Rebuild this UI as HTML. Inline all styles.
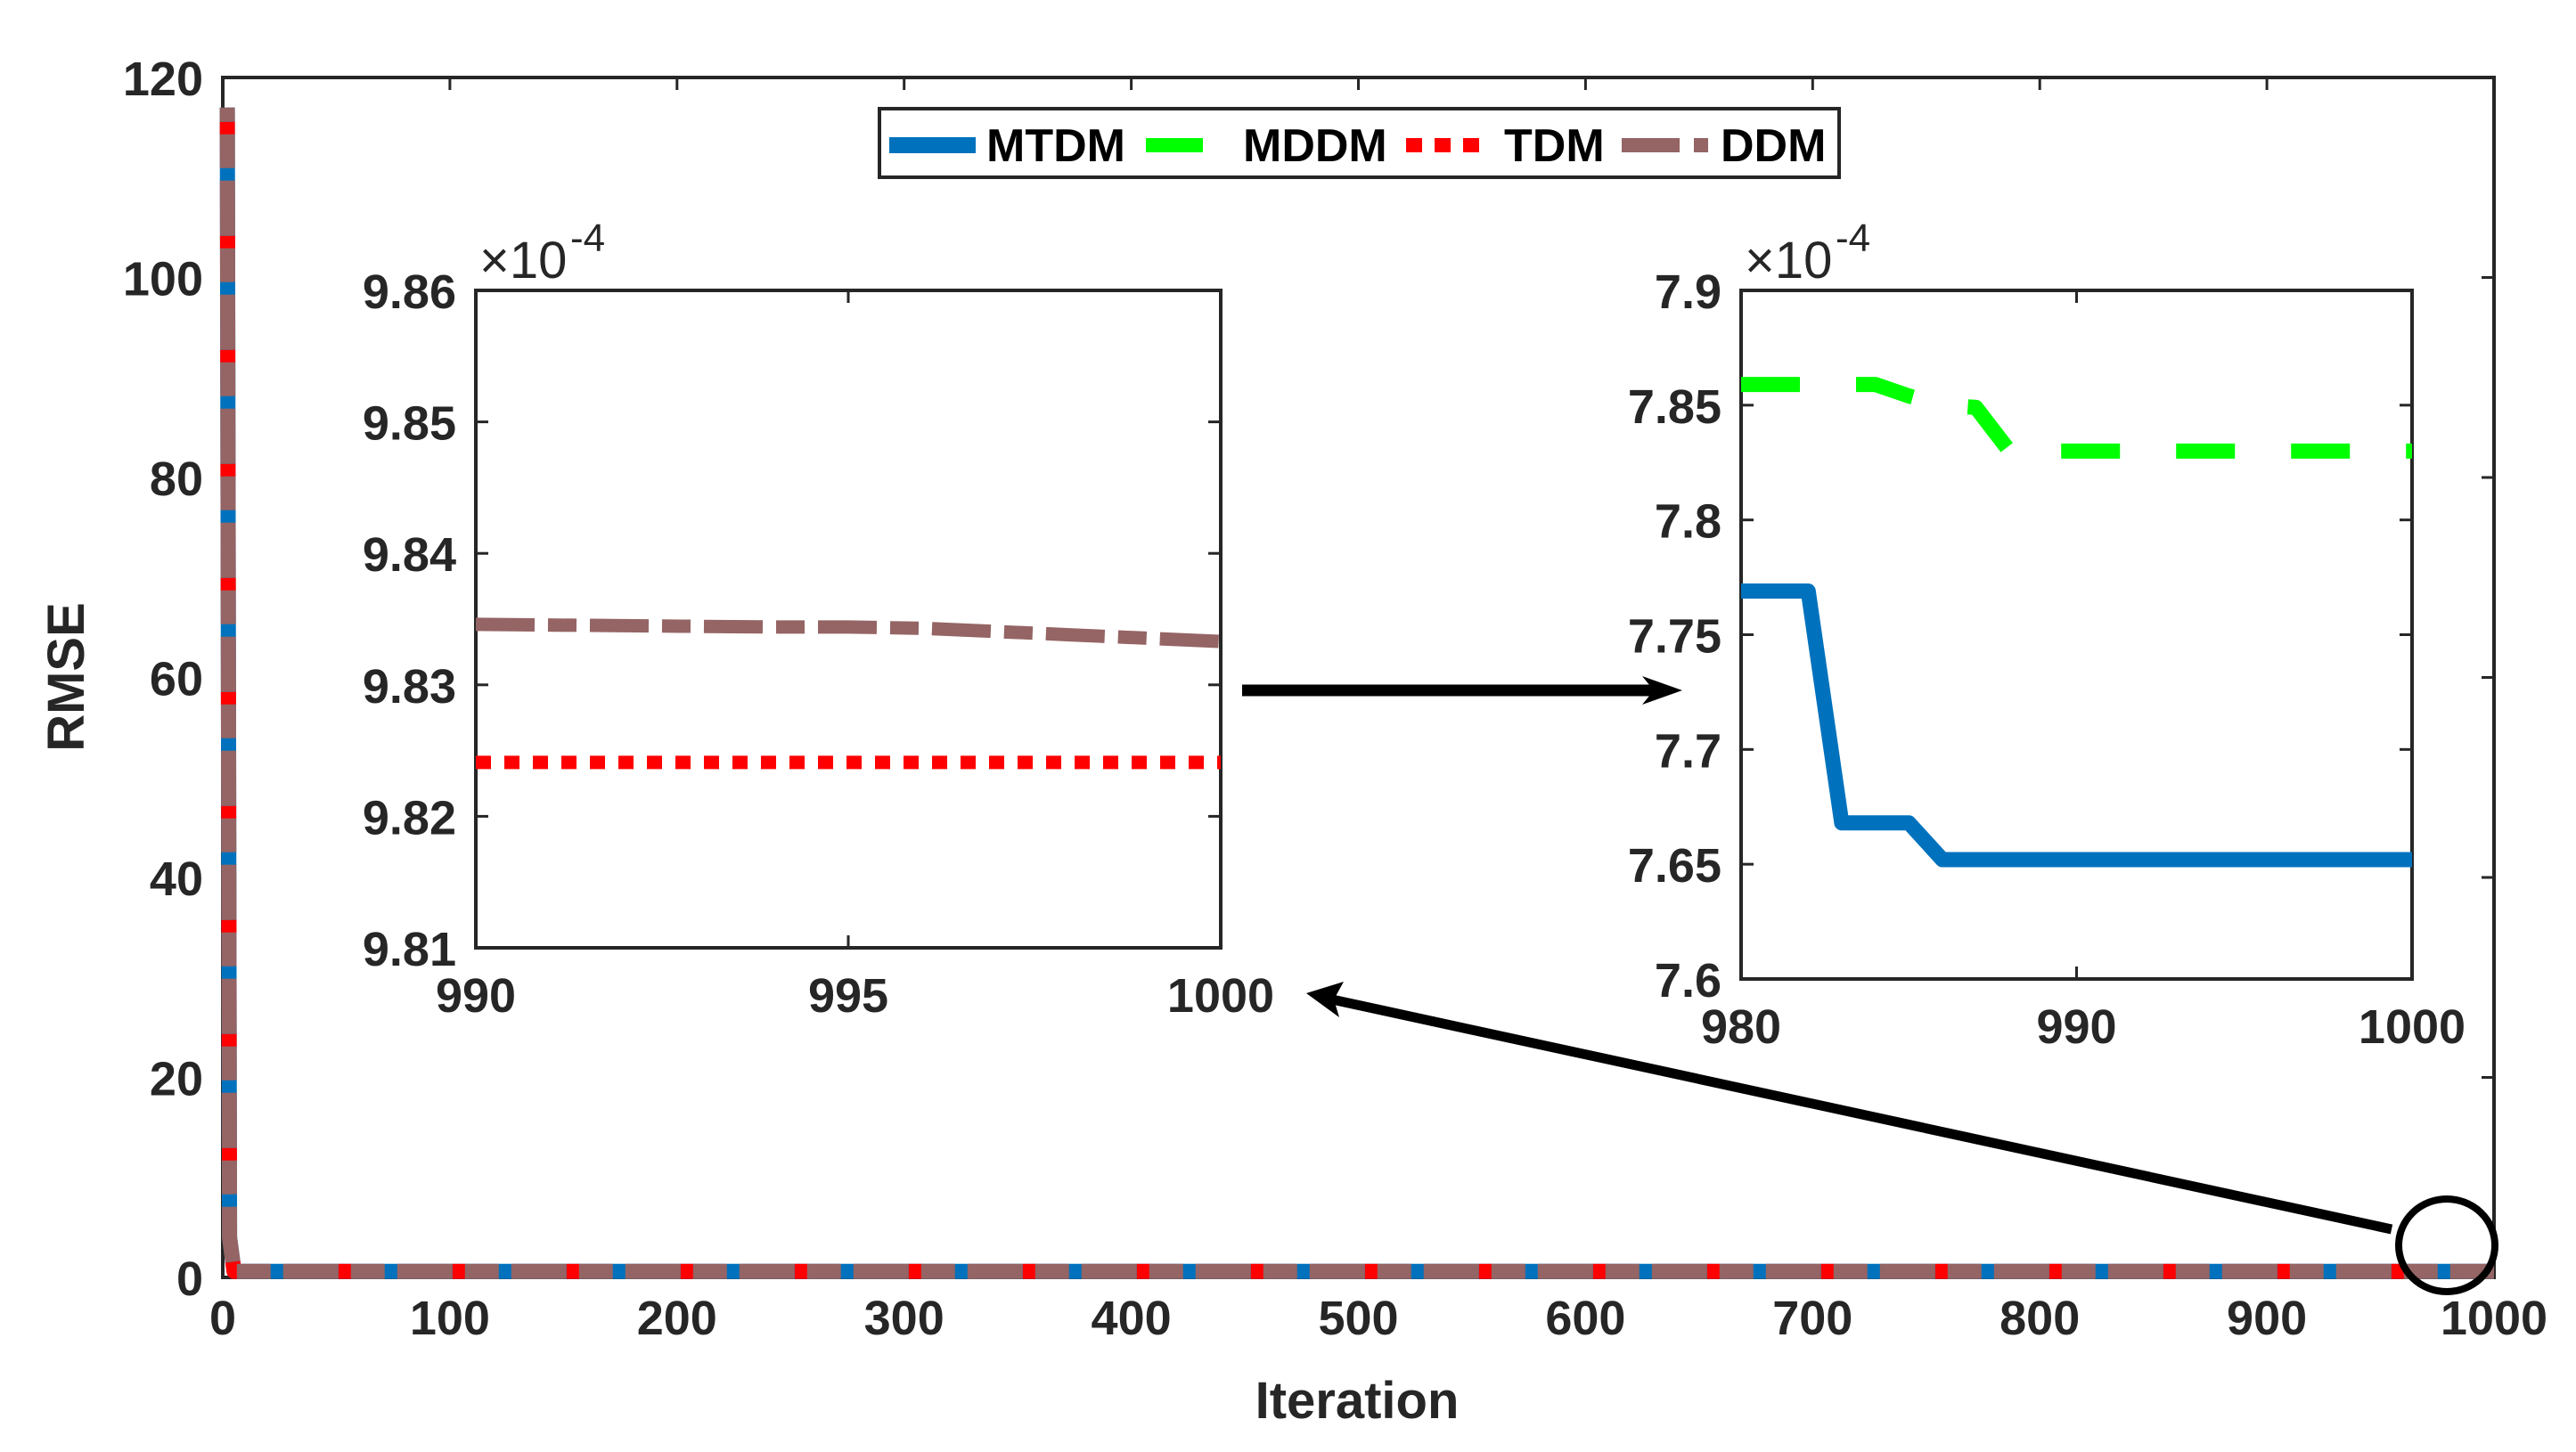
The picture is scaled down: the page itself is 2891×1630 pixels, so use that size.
<!DOCTYPE html>
<html><head><meta charset="utf-8">
<style>
html,body{margin:0;padding:0;background:#fff;}
svg{display:block;font-family:"Liberation Sans",Arial,sans-serif;font-weight:bold;}
</style></head>
<body>
<svg id="chart" width="2891" height="1630" viewBox="0 0 2891 1630" xmlns="http://www.w3.org/2000/svg">
<rect x="0" y="0" width="2891" height="1630" fill="#fff"/>
<g id="main"></g>
<g id="inset1"></g>
<g id="inset2"></g>
<g id="annot">
  <line x1="1394" y1="775" x2="1860" y2="775" stroke="#000" stroke-width="13"/>
  <polygon points="1888,775 1843,759 1856,775 1843,791" fill="#000"/>
  <line x1="2684" y1="1380" x2="1495" y2="1122" stroke="#000" stroke-width="11"/>
  <polygon points="1466,1115 1508,1102 1497,1122 1503,1142" fill="#000"/>
  <ellipse cx="2746" cy="1398" rx="54" ry="52" fill="none" stroke="#000" stroke-width="8"/>
</g>
<g id="legend">
  <rect x="987" y="122" width="1077" height="77" fill="#fff" stroke="#262626" stroke-width="4"/>
  <g>
    <line x1="998" y1="163" x2="1095" y2="163" stroke="#0072BD" stroke-width="18"/>
    <text x="1107" y="181" font-size="52" fill="#000">MTDM</text>
  </g>
  <g>
    <line x1="1286" y1="163" x2="1350" y2="163" stroke="#00FF00" stroke-width="16"/>
    <text x="1395" y="181" font-size="52" fill="#000">MDDM</text>
  </g>
  <g>
    <line x1="1578" y1="163" x2="1660" y2="163" stroke="#FF0000" stroke-width="16" stroke-dasharray="18 14"/>
    <text x="1688" y="181" font-size="52" fill="#000">TDM</text>
  </g>
  <g>
    <line x1="1820" y1="163" x2="1885" y2="163" stroke="#956464" stroke-width="16"/>
    <line x1="1901" y1="163" x2="1917" y2="163" stroke="#956464" stroke-width="16"/>
    <text x="1931" y="181" font-size="52" fill="#000">DDM</text>
  </g>
</g>
</svg>
<script>
// ===== Main chart data =====
const mainIter = [2, 3, 5, 1000];
const mainMTDM = [117, 4, 0.6, 0.6];
const mainMDDM = [117, 4, 0.6, 0.6];
const mainTDM  = [117, 4, 0.6, 0.6];
const mainDDM  = [117, 4, 0.6, 0.6];
const mainXTicks = [0,100,200,300,400,500,600,700,800,900,1000];
const mainYTicks = [0,20,40,60,80,100,120];

// ===== Inset 1 data (iterations 990-1000) =====
const in1Iter = [990, 992, 994, 995, 996, 998, 1000];
const in1DDM  = [9.8346, 9.8345, 9.8344, 9.8344, 9.8343, 9.8338, 9.8333];
const in1TDM  = [9.8241, 9.8241, 9.8241, 9.8241, 9.8241, 9.8241, 9.8241];
const in1XTicks = [990, 995, 1000];
const in1YTicks = [9.81, 9.82, 9.83, 9.84, 9.85, 9.86];

// ===== Inset 2 data (iterations 980-1000) =====
const in2Iter = [980, 982, 983, 984, 985, 986, 987, 988, 1000];
const in2MTDM = [7.769, 7.769, 7.668, 7.668, 7.668, 7.652, 7.652, 7.652, 7.652];
const in2MDDM = [7.859, 7.859, 7.859, 7.859, 7.854, 7.850, 7.849, 7.830, 7.830];
const in2XTicks = [980, 990, 1000];
const in2YTicks = [7.6, 7.65, 7.7, 7.75, 7.8, 7.85, 7.9];

const NS = 'http://www.w3.org/2000/svg';
function mk(parent, tag, attrs){
  const el = document.createElementNS(NS, tag);
  for (const k in attrs) el.setAttribute(k, attrs[k]);
  parent.appendChild(el);
  return el;
}
function linScale(d0,d1,r0,r1){ return v => r0 + (v-d0)/(d1-d0)*(r1-r0); }

function drawAxes(g, box, xs, ys, xTicks, yTicks, fs, xlabOff, ylabOff, fmtY){
  const tl = 14;
  const frame = mk(g,'rect',{x:box.l,y:box.t,width:box.r-box.l,height:box.b-box.t,fill:'#fff',stroke:'#262626','stroke-width':4});
  
  
  xTicks.forEach(v=>{
    const x = xs(v);
    const t1 = mk(g,'line',{x1:x,y1:box.b,x2:x,y2:box.b-tl,stroke:'#262626','stroke-width':3});
    
    
    const t2 = mk(g,'line',{x1:x,y1:box.t,x2:x,y2:box.t+tl,stroke:'#262626','stroke-width':3});
    
    
    const tx = mk(g,'text',{x:x,y:box.b+xlabOff,'font-size':fs,'text-anchor':'middle',fill:'#262626'});
    tx.textContent = String(v);
    
    
  });
  yTicks.forEach(v=>{
    const y = ys(v);
    const t1 = mk(g,'line',{x1:box.l,y1:y,x2:box.l+tl,y2:y,stroke:'#262626','stroke-width':3});
    
    
    const t2 = mk(g,'line',{x1:box.r,y1:y,x2:box.r-tl,y2:y,stroke:'#262626','stroke-width':3});
    
    
    const tx = mk(g,'text',{x:box.l-ylabOff,y:y+20,'font-size':fs,'text-anchor':'end',fill:'#262626'});
    tx.textContent = fmtY(v);
    
    
  });
}
function pathD(xsArr, ysArr, xs, ys){
  return xsArr.map((v,i)=>(i?'L':'M')+xs(v).toFixed(1)+','+ys(ysArr[i]).toFixed(1)).join(' ');
}
function series(g, d, color, w, dash, off, name){
  const p = mk(g,'path',{d:d,fill:'none',stroke:color,'stroke-width':w,'stroke-linejoin':'round'});
  if (dash) p.setAttribute('stroke-dasharray', dash);
  if (off) p.setAttribute('stroke-dashoffset', off);
  
  
  return p;
}

// ---- Main ----
(function(){
  const g = document.getElementById('main');
  const box = {l:250,r:2799,t:87,b:1434};
  const xs = linScale(0,1000,box.l,box.r);
  const ys = linScale(0,120,box.b,box.t);
  drawAxes(g, box, xs, ys, mainXTicks, mainYTicks, 54, 64, 22, v=>String(v));
  series(g, pathD(mainIter, mainMTDM, xs, ys), '#0072BD', 17, null, null, 'series-mtdm');
  series(g, pathD(mainIter, mainMDDM, xs, ys), '#00FF00', 17, '0 10000', null, 'series-mddm');
  series(g, pathD(mainIter, mainTDM, xs, ys), '#FF0000', 17, '15 113', '-16', 'series-tdm');
  series(g, pathD(mainIter, mainDDM, xs, ys), '#956464', 17, '38 14 62 14', '-30', 'series-ddm');
  const xl = mk(g,'text',{x:1523,y:1592,'font-size':58,'text-anchor':'middle',fill:'#262626'});
  xl.textContent = 'Iteration';
  
  
  const yl = mk(g,'text',{x:0,y:0,'font-size':58,'text-anchor':'middle',fill:'#262626',transform:'translate(94,760) rotate(-90)'});
  yl.textContent = 'RMSE';
  
  
})();

// ---- Inset 1 ----
(function(){
  const g = document.getElementById('inset1');
  const box = {l:534,r:1370,t:326,b:1064};
  const xs = linScale(990,1000,box.l,box.r);
  const ys = linScale(9.81,9.86,box.b,box.t);
  drawAxes(g, box, xs, ys, in1XTicks, in1YTicks, 54, 72, 22, v=>v.toFixed(2));
  series(g, pathD(in1Iter, in1TDM, xs, ys), '#FF0000', 15, '17 15', null, 'inset1-series-tdm');
  series(g, pathD(in1Iter, in1DDM, xs, ys), '#956464', 15, '66 15 32 15', null, 'inset1-series-ddm');
  const m = mk(g,'text',{x:538,y:312,'font-size':58,fill:'#262626','font-weight':'normal'});
  m.textContent = '\u00d710';
  
  
  const e = mk(g,'text',{x:640,y:282,'font-size':44,fill:'#262626','font-weight':'normal'});
  e.textContent = '-4';
  
  
})();

// ---- Inset 2 ----
(function(){
  const g = document.getElementById('inset2');
  const box = {l:1954,r:2707,t:326,b:1099};
  const xs = linScale(980,1000,box.l,box.r);
  const ys = linScale(7.6,7.9,box.b,box.t);
  drawAxes(g, box, xs, ys, in2XTicks, in2YTicks, 54, 72, 22, v=>String(v));
  series(g, pathD(in2Iter, in2MTDM, xs, ys), '#0072BD', 17, null, null, 'inset2-series-mtdm');
  series(g, pathD(in2Iter, in2MDDM, xs, ys), '#00FF00', 17, '66 63', null, 'inset2-series-mddm');
  const m = mk(g,'text',{x:1958,y:312,'font-size':58,fill:'#262626','font-weight':'normal'});
  m.textContent = '\u00d710';
  
  
  const e = mk(g,'text',{x:2060,y:282,'font-size':44,fill:'#262626','font-weight':'normal'});
  e.textContent = '-4';
  
  
})();
const svg = document.getElementById('chart');
svg.appendChild(document.getElementById('annot'));
svg.appendChild(document.getElementById('legend'));
</script>
</body></html>
